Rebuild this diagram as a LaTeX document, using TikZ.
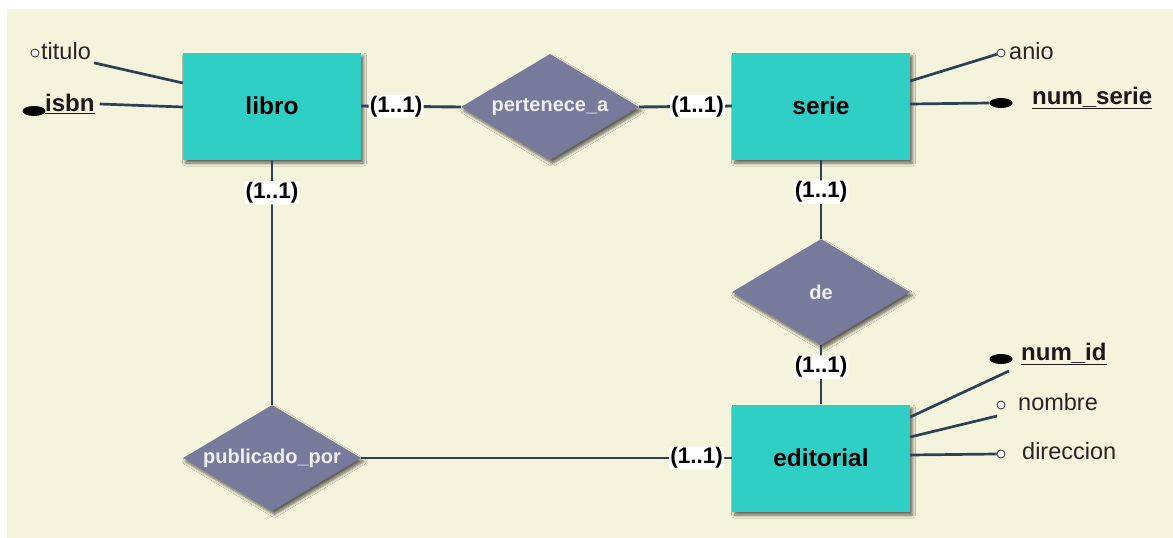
\documentclass[tikz,border=0pt]{standalone}
\usepackage{fontspec}
\setmainfont{Liberation Sans}
\usetikzlibrary{shapes.geometric,shadows.blur}
\definecolor{paper}{HTML}{F4F3DB}
\definecolor{entityfill}{HTML}{2FCFC6}
\definecolor{relfill}{HTML}{787A9B}
\definecolor{wire}{HTML}{2E4057}
\definecolor{reltext}{HTML}{EEEEF3}
\tikzset{
  softshadow/.style={blur shadow={shadow xshift=2.5pt, shadow yshift=-3.5pt,
      shadow blur radius=3pt, shadow blur steps=6, shadow opacity=60}},
  entity/.style={draw=none, fill=entityfill, minimum width=178pt, minimum height=107pt,
      inner sep=0pt, softshadow,
      font=\fontsize{24.5}{28}\selectfont\bfseries},
  relation/.style={diamond, draw=none, fill=relfill, minimum width=178pt,
      minimum height=106pt, inner sep=0pt, softshadow},
  reltxt/.style={text=reltext, font=\fontsize{20}{23}\selectfont\bfseries},
  link/.style={draw=wire, line width=2.9pt},
  attrlink/.style={draw=wire, line width=2.7pt},
  card/.style={fill=white, text=black, inner sep=1.2pt, rounded corners=2pt,
      font=\fontsize{22.5}{25}\selectfont\bfseries},
  attrtxt/.style={anchor=west, inner sep=0pt, text=black!85,
      font=\fontsize{23.5}{26}\selectfont},
  keytxt/.style={anchor=west, inner sep=0pt, text=black!90,
      font=\fontsize{24}{26}\selectfont\bfseries},
  opendot/.style={circle, draw=black!75, fill=white, line width=0.9pt,
      minimum size=8pt, inner sep=0pt},
  keydot/.style={ellipse, fill=black, minimum width=23pt, minimum height=10pt, inner sep=0pt},
}
\begin{document}
\begin{tikzpicture}[x=1pt, y=-1pt]
  % page and background
  \useasboundingbox (0,0) rectangle (1173,538);
  \fill[white] (0,0) rectangle (1173,538);
  \fill[paper] (7,9) rectangle (1173,538);

  % entities
  \node[entity] (libro)     at (272,106) {libro};
  \node[entity] (serie)     at (821,106) {serie};
  \node[entity] (editorial) at (821,458) {editorial};

  % relationships
  \node[relation, label={[reltxt]center:pertenece\_a}]   (pert) at (550,107) {};
  \node[relation, label={[reltxt]center:de}]             (de)   at (821,292) {};
  \node[relation, label={[reltxt]center:publicado\_por}] (pub)  at (272,458) {};

  % relationship links with cardinalities
  \draw[link] (libro.east) -- node[card, pos=0.35] {(1..1)} (pert.west);
  \draw[link] (pert.east) -- node[card, pos=0.63] {(1..1)} (serie.west);
  \draw[link] (libro.south) -- node[card, pos=0.135] {(1..1)} (pub.north);
  \draw[link] (serie.south) -- node[card, pos=0.41] {(1..1)} (de.north);
  \draw[link] (de.south) -- node[card, pos=0.37] {(1..1)} (editorial.north);
  \draw[link] (pub.east) -- node[card, pos=0.905] {(1..1)} (editorial.west);

  % libro attributes
  \node[opendot] (titulo-m) at (35,53) {};
  \node[attrtxt] (titulo-t) at (41,51) {titulo};
  \node[keytxt]  (isbn-t)   at (45,104) {\underline{isbn}};
  \node[keydot]  (isbn-m)   at (34,111) {};
  \draw[attrlink] ([shift={(3pt,-3pt)}]titulo-t.south east) -- ([yshift=23pt]libro.west);
  \draw[attrlink] ([xshift=5pt]isbn-t.east) -- ([yshift=-1pt]libro.west);

  % serie attributes
  \node[opendot] (anio-m) at (1001,53) {};
  \node[attrtxt] (anio-t) at (1009,51) {anio};
  \node[keydot]  (numserie-m) at (1001,103) {};
  \node[keytxt]  (numserie-t) at (1032,98) {\underline{num\_serie}};
  \draw[attrlink] ([yshift=25pt]serie.east) -- (anio-m);
  \draw[attrlink] ([yshift=2pt]serie.east) -- (numserie-m.west);

  % editorial attributes
  \node[keydot]  (numid-m) at (1001,359) {};
  \node[keytxt]  (numid-t) at (1021,354) {\underline{num\_id}};
  \node[opendot] (nombre-m) at (1001,405) {};
  \node[attrtxt] (nombre-t) at (1018,402) {nombre};
  \node[opendot] (dir-m) at (1001,454) {};
  \node[attrtxt] (dir-t) at (1022,451) {direccion};
  \draw[attrlink] ([yshift=41pt]editorial.east) -- ([shift={(8pt,-12pt)}]numid-m.center);
  \draw[attrlink] ([yshift=21pt]editorial.east) -- ([shift={(-4pt,-11pt)}]nombre-m.center);
  \draw[attrlink] ([yshift=3pt]editorial.east) -- (dir-m.west);
\end{tikzpicture}
\end{document}
